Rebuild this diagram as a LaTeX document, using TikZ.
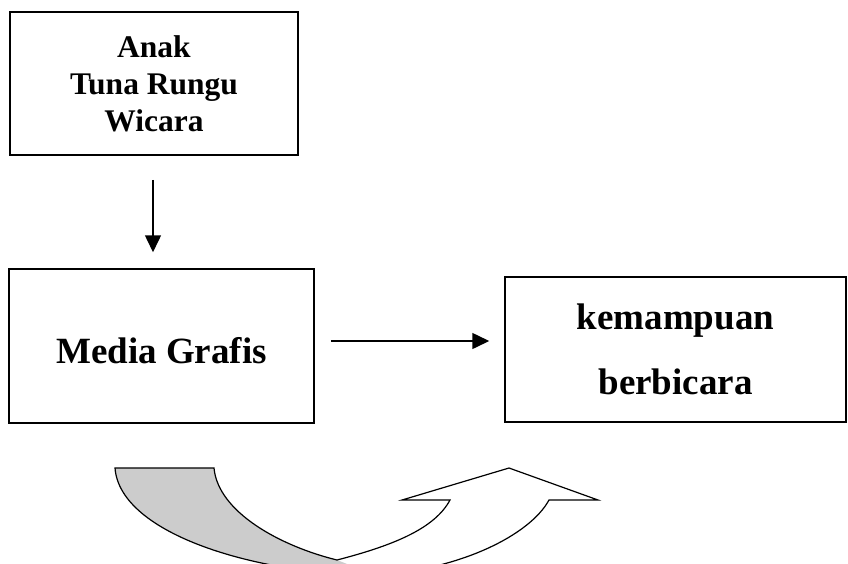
\documentclass[tikz,border=0pt]{standalone}
\usepackage{fontspec}
\setmainfont{Liberation Serif}
\usetikzlibrary{arrows.meta}

\begin{document}
\begin{tikzpicture}[x=1pt,y=-1pt, line width=1.5pt,
  kotak/.style={draw, align=center, font=\bfseries, inner sep=0pt},
  panah/.style={line width=1.5pt, -{Triangle[length=17pt,width=16pt]}}]
\useasboundingbox (0,0) rectangle (848,563);
\clip (0,0) rectangle (848,563);

\node[kotak, minimum width=288pt, minimum height=143pt, font=\bfseries\fontsize{31.5}{37}\selectfont] (anak) at (154,83.5) {Anak\\Tuna Rungu\\Wicara};
\node[kotak, minimum width=305pt, minimum height=154pt, text height=34pt, text depth=0pt, font=\bfseries\fontsize{37}{40}\selectfont] (media) at (161.5,346) {Media Grafis};
\node[kotak, minimum width=341pt, minimum height=145pt, font=\bfseries\fontsize{37}{65}\selectfont] (mampu) at (675.5,349.5) {kemampuan\\berbicara};

\draw[panah, shorten <=24pt, shorten >=16pt] (anak.south -| 153,0) -- (media.north -| 153,0);
\draw[panah, shorten <=16pt, shorten >=15pt] (media.east |- 0,341) -- (mampu.west |- 0,341);

% panah lengkung
\fill[gray!40] (115,468) -- (214,468) .. controls (218,512) and (280,546) .. (337,560)
  -- (375,575) .. controls (260,575) and (120,535) .. (115,468) -- cycle;
\draw[line width=1.2pt, line join=miter] (115,468) -- (214,468)
  .. controls (218,512) and (280,546) .. (337,560)
  .. controls (395,545) and (435,528) .. (450,500)
  -- (402,500) -- (509,468) -- (598,500) -- (549,500)
  .. controls (530,535) and (460,570) .. (375,575)
  .. controls (260,575) and (120,535) .. (115,468) -- cycle;
\end{tikzpicture}
\end{document}
